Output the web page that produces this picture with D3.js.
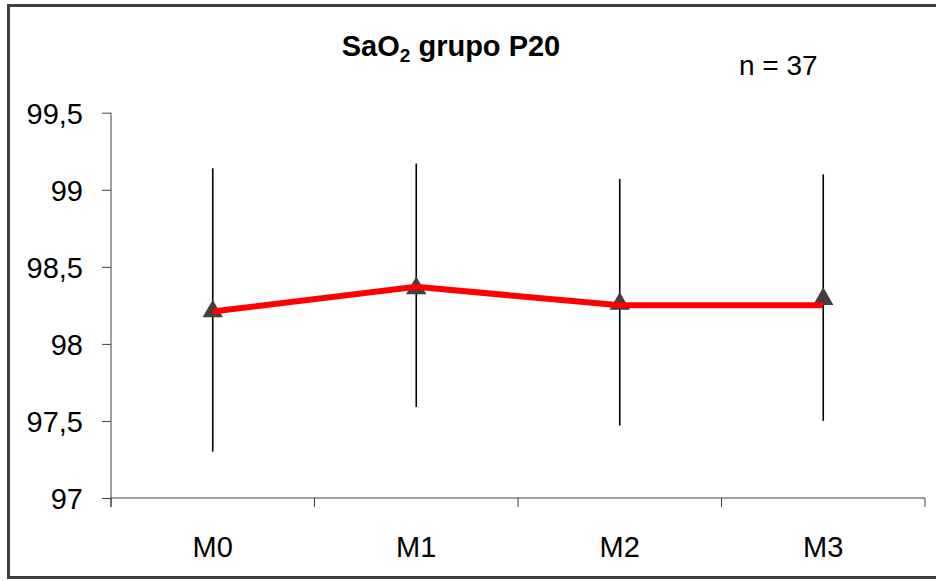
<!DOCTYPE html>
<html>
<head>
<meta charset="utf-8">
<script src="https://cdn.jsdelivr.net/npm/d3@7"></script>
<style>
  body { margin: 0; background: #fff; }
  text { font-family: "Liberation Sans", Arial, sans-serif; fill: #000; }
</style>
</head>
<body>
<div id="chart"></div>
<script>
// data
var moments   = ["M0", "M1", "M2", "M3"];
var lineMean  = [98.21, 98.37, 98.25, 98.25];
var markMean  = [98.22, 98.37, 98.27, 98.30];
var barHigh   = [99.14, 99.17, 99.07, 99.10];
var barLow    = [97.30, 97.59, 97.47, 97.50];
var yTicks    = [97, 97.5, 98, 98.5, 99, 99.5];

var width = 936, height = 581;
var plot = {left: 111, right: 925, top: 112.7, bottom: 498};

var svg = d3.select("#chart").append("svg")
    .attr("width", width)
    .attr("height", height);

// outer frame
svg.append("rect")
    .attr("x", 8.5).attr("y", 5.5)
    .attr("width", 940).attr("height", 572)
    .attr("fill", "none")
    .attr("stroke", "#404040")
    .attr("stroke-width", 3);

var x = d3.scaleBand().domain(moments).range([plot.left, plot.right]);
var y = d3.scaleLinear().domain([97, 99.5]).range([plot.bottom, plot.top]);

function cx(d) { return x(d) + x.bandwidth() / 2; }

// y axis
var yAxis = svg.append("g")
    .attr("transform", "translate(" + plot.left + ",0)")
    .call(d3.axisLeft(y).tickValues(yTicks).tickSize(9).tickPadding(19)
        .tickFormat(function(d) { return String(d).replace(".", ","); }));
yAxis.select(".domain").remove();
yAxis.append("line")
    .attr("x1", 0).attr("x2", 0)
    .attr("y1", plot.top).attr("y2", plot.bottom + 9)
    .attr("stroke", "#404040");
yAxis.selectAll(".tick line").attr("stroke", "#404040");
yAxis.selectAll(".tick text")
    .style("font-size", "29px")
    .attr("dy", "0.36em");

// x axis: ticks on the band edges
var xg = svg.append("g");
xg.append("line")
    .attr("x1", plot.left).attr("x2", plot.right)
    .attr("y1", plot.bottom).attr("y2", plot.bottom)
    .attr("stroke", "#404040");
var edges = moments.map(function(d) { return x(d); }).concat([plot.right]);
xg.selectAll("line.edge")
    .data(edges)
    .enter().append("line")
    .attr("class", "edge")
    .attr("x1", function(d) { return d; })
    .attr("x2", function(d) { return d; })
    .attr("y1", plot.bottom)
    .attr("y2", plot.bottom + 9)
    .attr("stroke", "#404040");
xg.selectAll("text")
    .data(moments)
    .enter().append("text")
    .attr("x", cx)
    .attr("y", 557)
    .attr("text-anchor", "middle")
    .style("font-size", "29px")
    .text(function(d) { return d; });

// error bars
svg.append("g").selectAll("line")
    .data(moments)
    .enter().append("line")
    .attr("x1", cx).attr("x2", cx)
    .attr("y1", function(d, i) { return y(barHigh[i]); })
    .attr("y2", function(d, i) { return y(barLow[i]); })
    .attr("stroke", "#000")
    .attr("stroke-width", 1.6);

// triangle markers
var tri = d3.symbol().type(d3.symbolTriangle).size(180);
svg.append("g").selectAll("path")
    .data(moments)
    .enter().append("path")
    .attr("d", tri)
    .attr("transform", function(d, i) {
        return "translate(" + cx(d) + "," + (y(markMean[i]) + 1.5) + ")";
    })
    .attr("fill", "#404040");

// red mean line
var line = d3.line()
    .x(function(d) { return cx(d); })
    .y(function(d, i) { return y(lineMean[i]); });
svg.append("path")
    .datum(moments)
    .attr("d", line)
    .attr("fill", "none")
    .attr("stroke", "#ff0000")
    .attr("stroke-width", 6);

// title and n
var title = svg.append("text")
    .attr("x", 451).attr("y", 56)
    .attr("text-anchor", "middle")
    .style("font-size", "29px")
    .style("font-weight", "bold");
title.append("tspan").text("SaO");
title.append("tspan").text("2").attr("dy", 6).style("font-size", "19px");
title.append("tspan").text(" grupo P20").attr("dy", -6);

svg.append("text")
    .attr("x", 739).attr("y", 75)
    .style("font-size", "28px")
    .text("n = 37");
</script>
</body>
</html>
